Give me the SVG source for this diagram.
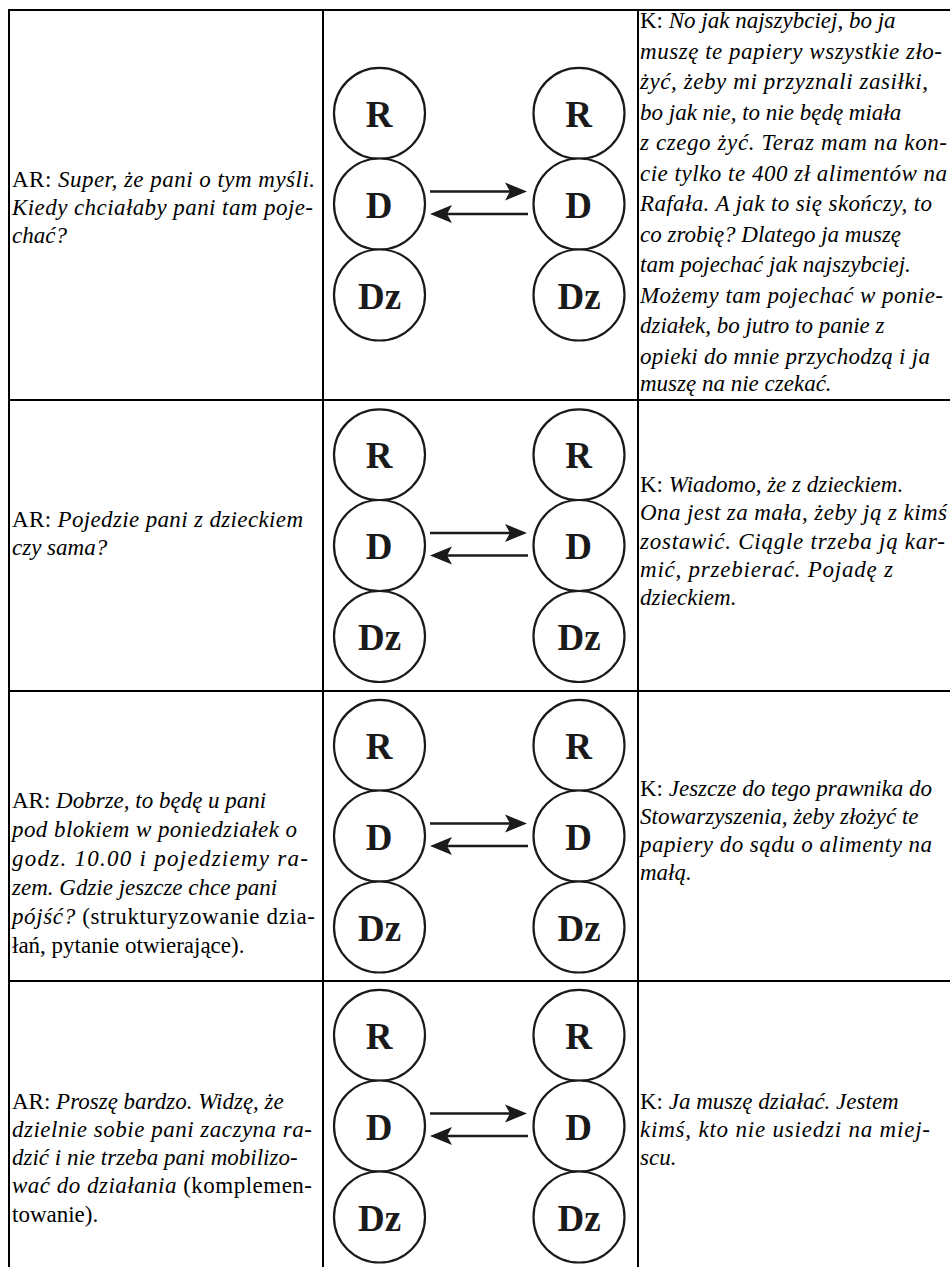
<svg xmlns="http://www.w3.org/2000/svg" width="950" height="1267" viewBox="0 0 950 1267">
<style>
.grid{stroke:#000;stroke-width:2;fill:none}
.c{fill:#fff;stroke:#1a1a1a;stroke-width:2.2}
.l{font-family:"Liberation Serif","Times New Roman",serif;font-weight:bold;font-size:37px;fill:#1a1a1a;text-anchor:middle}
.t{font-family:"Liberation Serif","Times New Roman",serif;font-size:23px;fill:#000}
.i{font-style:italic}
.a{stroke:#1a1a1a;stroke-width:2.7;fill:none}
</style>
<defs>
<marker id="ah" markerUnits="userSpaceOnUse" markerWidth="23" markerHeight="19" refX="7" refY="9.5" orient="auto">
<path d="M0,0.5 L22,9.5 L0,18.5 L5,9.5 Z" fill="#1a1a1a"/>
</marker>
</defs>
<rect width="950" height="1267" fill="#fff"/>
<g id="table" class="grid">
<line x1="9" y1="10" x2="950" y2="10"/>
<line x1="9" y1="400" x2="950" y2="400"/>
<line x1="9" y1="691" x2="950" y2="691"/>
<line x1="9" y1="981" x2="950" y2="981"/>
<line x1="9" y1="9" x2="9" y2="1267"/>
<line x1="323" y1="9" x2="323" y2="1267"/>
<line x1="638" y1="9" x2="638" y2="1267"/>
</g>

<g id="row1-left" class="t">
<text x="12" y="187" textLength="303" lengthAdjust="spacing">AR: <tspan class="i">Super, że pani o tym myśli.</tspan></text>
<text x="12" y="215" class="i" textLength="301" lengthAdjust="spacing">Kiedy chciałaby pani tam poje-</text>
<text x="12" y="243" class="i">chać?</text>
</g>
<g id="row1-right" class="t">
<text x="640" y="28">K: <tspan class="i">No jak najszybciej, bo ja</tspan></text>
<text x="640" y="58.5" class="i" textLength="302" lengthAdjust="spacing">muszę te papiery wszystkie zło-</text>
<text x="640" y="89" class="i" textLength="288" lengthAdjust="spacing">żyć, żeby mi przyznali zasiłki,</text>
<text x="640" y="119.5" class="i">bo jak nie, to nie będę miała</text>
<text x="640" y="150" class="i" textLength="307" lengthAdjust="spacing">z czego żyć. Teraz mam na kon-</text>
<text x="640" y="180.5" class="i" textLength="307" lengthAdjust="spacing">cie tylko te 400 zł alimentów na</text>
<text x="640" y="211" class="i" textLength="292" lengthAdjust="spacing">Rafała. A jak to się skończy, to</text>
<text x="640" y="241.5" class="i">co zrobię? Dlatego ja muszę</text>
<text x="640" y="272" class="i">tam pojechać jak najszybciej.</text>
<text x="640" y="302.5" class="i" textLength="303" lengthAdjust="spacing">Możemy tam pojechać w ponie-</text>
<text x="640" y="333" class="i">działek, bo jutro to panie z</text>
<text x="640" y="363.5" class="i" textLength="290" lengthAdjust="spacing">opieki do mnie przychodzą i ja</text>
<text x="640" y="391" class="i">muszę na nie czekać.</text>
</g>

<g id="row2-left" class="t">
<text x="12" y="527" textLength="291" lengthAdjust="spacing">AR: <tspan class="i">Pojedzie pani z dzieckiem</tspan></text>
<text x="12" y="555" class="i">czy sama?</text>
</g>
<g id="row2-right" class="t">
<text x="640" y="492">K: <tspan class="i">Wiadomo, że z dzieckiem.</tspan></text>
<text x="640" y="520" class="i" textLength="307" lengthAdjust="spacing">Ona jest za mała, żeby ją z kimś</text>
<text x="640" y="548.5" class="i" textLength="305" lengthAdjust="spacing">zostawić. Ciągle trzeba ją kar-</text>
<text x="640" y="577" class="i" textLength="253" lengthAdjust="spacing">mić, przebierać. Pojadę z</text>
<text x="640" y="605" class="i">dzieckiem.</text>
</g>

<g id="row3-left" class="t">
<text x="12" y="808">AR: <tspan class="i">Dobrze, to będę u pani</tspan></text>
<text x="12" y="837" class="i" textLength="285" lengthAdjust="spacing">pod blokiem w poniedziałek o</text>
<text x="12" y="866" class="i" textLength="296" lengthAdjust="spacing">godz. 10.00 i pojedziemy ra-</text>
<text x="12" y="895" class="i">zem. Gdzie jeszcze chce pani</text>
<text x="12" y="924" textLength="303" lengthAdjust="spacing"><tspan class="i">pójść?</tspan> (strukturyzowanie dzia-</text>
<text x="12" y="953">łań, pytanie otwierające).</text>
</g>
<g id="row3-right" class="t">
<text x="640" y="796">K: <tspan class="i">Jeszcze do tego prawnika do</tspan></text>
<text x="640" y="824" class="i">Stowarzyszenia, żeby złożyć te</text>
<text x="640" y="852" class="i" textLength="292" lengthAdjust="spacing">papiery do sądu o alimenty na</text>
<text x="640" y="880" class="i">małą.</text>
</g>

<g id="row4-left" class="t">
<text x="12" y="1109">AR: <tspan class="i">Proszę bardzo. Widzę, że</tspan></text>
<text x="12" y="1137" class="i" textLength="300" lengthAdjust="spacing">dzielnie sobie pani zaczyna ra-</text>
<text x="12" y="1165" class="i">dzić i nie trzeba pani mobilizo-</text>
<text x="12" y="1193" textLength="300" lengthAdjust="spacing"><tspan class="i">wać do działania</tspan> (komplemen-</text>
<text x="12" y="1222">towanie).</text>
</g>
<g id="row4-right" class="t">
<text x="640" y="1109">K: <tspan class="i">Ja muszę działać. Jestem</tspan></text>
<text x="640" y="1137" class="i" textLength="290" lengthAdjust="spacing">kimś, kto nie usiedzi na miej-</text>
<text x="640" y="1165" class="i">scu.</text>
</g>

<g id="connectors">
<line class="a" x1="430" y1="191.5" x2="512" y2="191.5" marker-end="url(#ah)"/>
<line class="a" x1="528" y1="214" x2="445" y2="214" marker-end="url(#ah)"/>
<line class="a" x1="430" y1="533" x2="512" y2="533" marker-end="url(#ah)"/>
<line class="a" x1="528" y1="555.5" x2="445" y2="555.5" marker-end="url(#ah)"/>
<line class="a" x1="430" y1="823.5" x2="512" y2="823.5" marker-end="url(#ah)"/>
<line class="a" x1="528" y1="846" x2="445" y2="846" marker-end="url(#ah)"/>
<line class="a" x1="430" y1="1113.5" x2="512" y2="1113.5" marker-end="url(#ah)"/>
<line class="a" x1="528" y1="1136" x2="445" y2="1136" marker-end="url(#ah)"/>
</g>

<g id="r1-R-left"><circle class="c" cx="379.5" cy="113.3" r="45.5"/><text class="l" x="379" y="126.8">R</text></g>
<g id="r1-D-left"><circle class="c" cx="379.5" cy="204" r="45.5"/><text class="l" x="379" y="217.6">D</text></g>
<g id="r1-Dz-left"><circle class="c" cx="379.5" cy="295" r="45.5"/><text class="l" x="379.5" y="308.6">Dz</text></g>
<g id="r1-R-right"><circle class="c" cx="579" cy="113.3" r="45.5"/><text class="l" x="578.5" y="126.8">R</text></g>
<g id="r1-D-right"><circle class="c" cx="579" cy="204" r="45.5"/><text class="l" x="578.5" y="217.6">D</text></g>
<g id="r1-Dz-right"><circle class="c" cx="579" cy="295" r="45.5"/><text class="l" x="579" y="308.6">Dz</text></g>

<g id="r2-R-left"><circle class="c" cx="379.5" cy="454.8" r="45.5"/><text class="l" x="379" y="468.3">R</text></g>
<g id="r2-D-left"><circle class="c" cx="379.5" cy="545.5" r="45.5"/><text class="l" x="379" y="559.1">D</text></g>
<g id="r2-Dz-left"><circle class="c" cx="379.5" cy="636.5" r="45.5"/><text class="l" x="379.5" y="650.1">Dz</text></g>
<g id="r2-R-right"><circle class="c" cx="579" cy="454.8" r="45.5"/><text class="l" x="578.5" y="468.3">R</text></g>
<g id="r2-D-right"><circle class="c" cx="579" cy="545.5" r="45.5"/><text class="l" x="578.5" y="559.1">D</text></g>
<g id="r2-Dz-right"><circle class="c" cx="579" cy="636.5" r="45.5"/><text class="l" x="579" y="650.1">Dz</text></g>

<g id="r3-R-left"><circle class="c" cx="379.5" cy="745.3" r="45.5"/><text class="l" x="379" y="758.8">R</text></g>
<g id="r3-D-left"><circle class="c" cx="379.5" cy="836" r="45.5"/><text class="l" x="379" y="849.6">D</text></g>
<g id="r3-Dz-left"><circle class="c" cx="379.5" cy="927" r="45.5"/><text class="l" x="379.5" y="940.6">Dz</text></g>
<g id="r3-R-right"><circle class="c" cx="579" cy="745.3" r="45.5"/><text class="l" x="578.5" y="758.8">R</text></g>
<g id="r3-D-right"><circle class="c" cx="579" cy="836" r="45.5"/><text class="l" x="578.5" y="849.6">D</text></g>
<g id="r3-Dz-right"><circle class="c" cx="579" cy="927" r="45.5"/><text class="l" x="579" y="940.6">Dz</text></g>

<g id="r4-R-left"><circle class="c" cx="379.5" cy="1035.3" r="45.5"/><text class="l" x="379" y="1048.8">R</text></g>
<g id="r4-D-left"><circle class="c" cx="379.5" cy="1126" r="45.5"/><text class="l" x="379" y="1139.6">D</text></g>
<g id="r4-Dz-left"><circle class="c" cx="379.5" cy="1217" r="45.5"/><text class="l" x="379.5" y="1230.6">Dz</text></g>
<g id="r4-R-right"><circle class="c" cx="579" cy="1035.3" r="45.5"/><text class="l" x="578.5" y="1048.8">R</text></g>
<g id="r4-D-right"><circle class="c" cx="579" cy="1126" r="45.5"/><text class="l" x="578.5" y="1139.6">D</text></g>
<g id="r4-Dz-right"><circle class="c" cx="579" cy="1217" r="45.5"/><text class="l" x="579" y="1230.6">Dz</text></g>
</svg>
